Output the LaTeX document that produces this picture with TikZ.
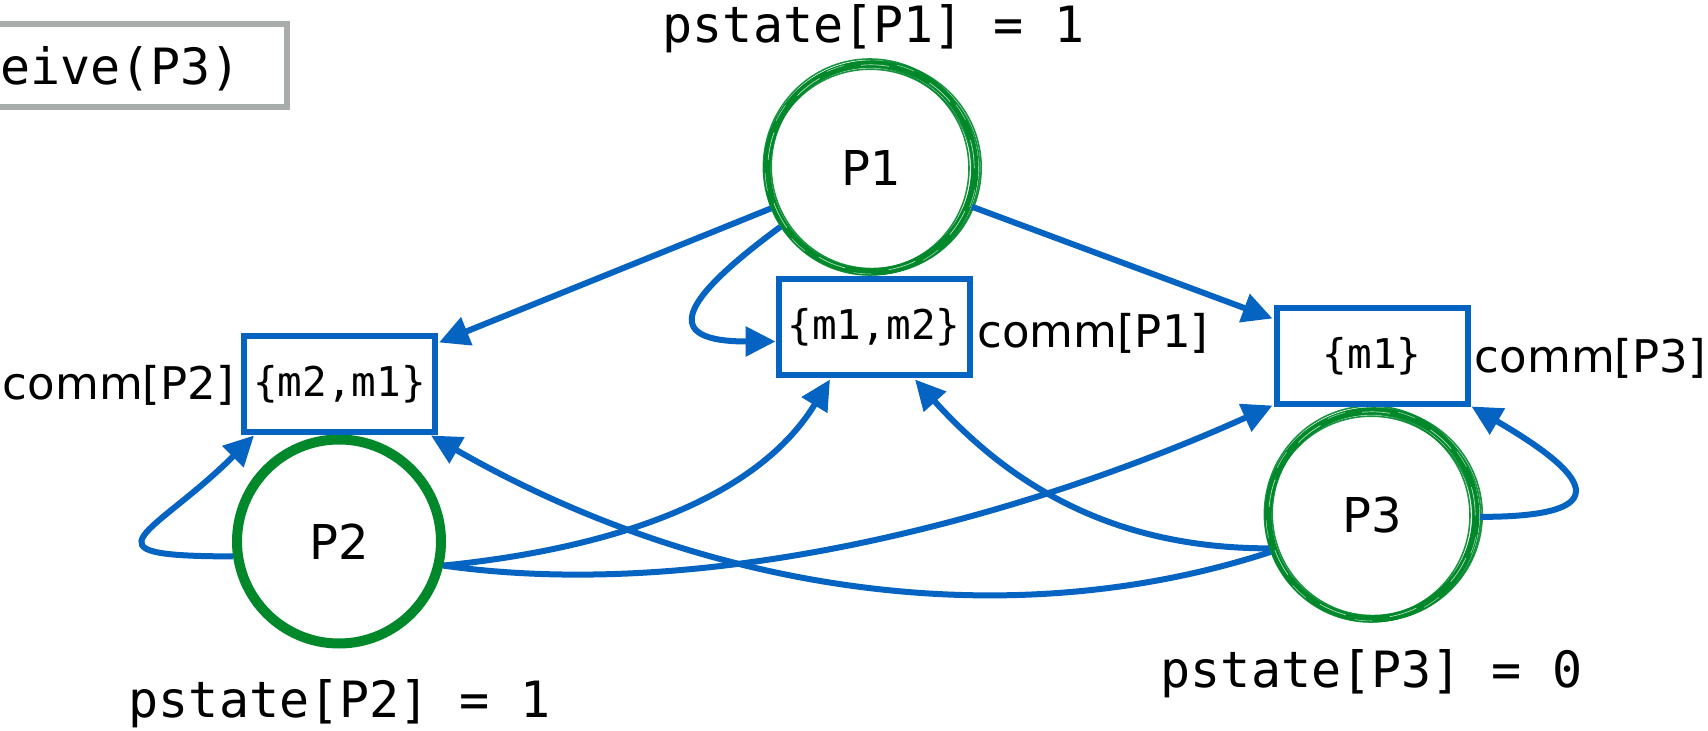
\documentclass[tikz,border=0pt]{standalone}
\usepackage{fontspec}
\setmainfont{DejaVu Sans}
\setsansfont{DejaVu Sans}
\setmonofont{DejaVu Sans Mono}
\usetikzlibrary{arrows.meta}

\definecolor{linkblue}{HTML}{0563C1}
\definecolor{procgreen}{HTML}{00882B}
\definecolor{framegray}{HTML}{A8ADAB}

% font sizes (one unit of the picture = 0.5pt)
\newcommand\dgState{\ttfamily\fontsize{25pt}{25pt}\selectfont}
\newcommand\dgBox{\ttfamily\fontsize{20.5pt}{20.5pt}\selectfont}
\newcommand\dgProc{\sffamily\fontsize{24pt}{24pt}\selectfont}
\newcommand\dgLabel{\sffamily\fontsize{22.5pt}{22.5pt}\selectfont}

% a hand-brushed ring around the centre of a process node
\newcommand\brushring[1]{%
  \draw[procgreen, line width=3.4pt] (#1.center) circle [radius=52pt];
  \foreach \dx/\dy/\rx/\ry in {0.5/-0.3/53.8/52.8, -0.6/0.5/53.2/54.0,
      0.4/0.7/50.3/51.0, -0.4/-0.6/50.8/50.0, 0.9/0.2/54.2/53.3,
      -0.8/-0.2/49.8/50.6}{
    \draw[procgreen, line width=0.8pt, opacity=0.9]
      ([shift={(\dx pt,\dy pt)}]#1.center) ellipse [x radius=\rx pt, y radius=\ry pt];
  }
  \draw[white, line width=0.35pt, opacity=0.7, dash pattern=on 14pt off 22pt]
    (#1.center) circle [radius=51.6pt];
  \draw[white, line width=0.3pt, opacity=0.6, dash pattern=on 9pt off 27pt, dash phase=11pt]
    (#1.center) circle [radius=53.0pt];
}

\begin{document}
\begin{tikzpicture}[x=0.5pt, y=-0.5pt,
  flow/.style={draw=linkblue, line width=3pt,
    -{Triangle[length=15pt, width=14.5pt]}},
  membox/.style={rectangle, draw=linkblue, line width=3pt, fill=white,
    minimum width=95.5pt, minimum height=48pt, inner sep=0pt, font=\dgBox},
  proc/.style={circle, minimum size=108pt, inner sep=0pt, outer sep=0pt,
    font=\dgProc},
  procsolid/.style={circle, draw=procgreen, line width=5pt,
    minimum size=102pt, inner sep=0pt, font=\dgProc},
  commlabel/.style={anchor=base west, inner sep=0pt, font=\dgLabel},
  statelabel/.style={anchor=base, inner sep=0pt, font=\dgState},
  callbox/.style={rectangle, draw=framegray, line width=3pt, font=\dgState,
    minimum height=41.5pt, inner xsep=23pt, text height=19.5pt, text depth=0pt}
]
\useasboundingbox (0,0) rectangle (1708,731);

% current call
\node[callbox, anchor=east] (call) at (290,65.5) {eive(P3)};

% processes
\node[proc] (p1) at (871,168) {P1};
\node[procsolid] (p2) at (339,541.5) {P2};
\node[proc] (p3) at (1372,515) {P3};
\brushring{p1}
\brushring{p3}

% communication sets
\node[membox] (c1) at (874,327.5) {\{m1,m2\}};
\node[membox] (c2) at (339.5,384) {\{m2,m1\}};
\node[membox] (c3) at (1372,356.5) {\{m1\}};

% labels
\node[commlabel] (l1) at (977,348) {comm[P1]};
\node[commlabel] (l2) at (2.5,400) {comm[P2]};
\node[commlabel] (l3) at (1474.5,373) {comm[P3]};
\node[statelabel] (s1) at (873.5,43) {pstate[P1] = 1};
\node[statelabel] (s2) at (339.5,718) {pstate[P2] = 1};
\node[statelabel] (s3) at (1371.5,688) {pstate[P3] = 0};

% messages from P1
\draw[flow] (p1.202) -- ([shift={(1,9.5)}]c2.north east);
\draw[flow] (p1.213) .. controls +(-102,75) and +(-115,0) .. ([shift={(0,14)}]c1.west);
\draw[flow] (p1.339) -- ([shift={(-1,13)}]c3.north west);

% messages from P2
\draw[flow] (p2.188) .. controls +(-160,0) and +(-99,99) .. ([shift={(13,0.5)}]c2.south west);
\draw[flow] (p2.347) .. controls +(150,-15) and +(-78,127.5) .. ([shift={(-44,1)}]c1.south);
\draw[flow] (p2.347) .. controls +(275,39) and +(-233,105) .. ([shift={(-1,-2)}]c3.south west);

% messages from P3
\draw[flow] (p3.198) .. controls +(-150,0) and +(100,111) .. ([shift={(41,1)}]c1.south);
\draw[flow] (p3.200) .. controls +(-267,87) and +(270,155) .. ([shift={(-7,0.5)}]c2.south east);
\draw[flow] (p3.359) .. controls +(130,0) and +(129,75) .. ([shift={(1,-1)}]c3.south east);
\end{tikzpicture}
\end{document}
